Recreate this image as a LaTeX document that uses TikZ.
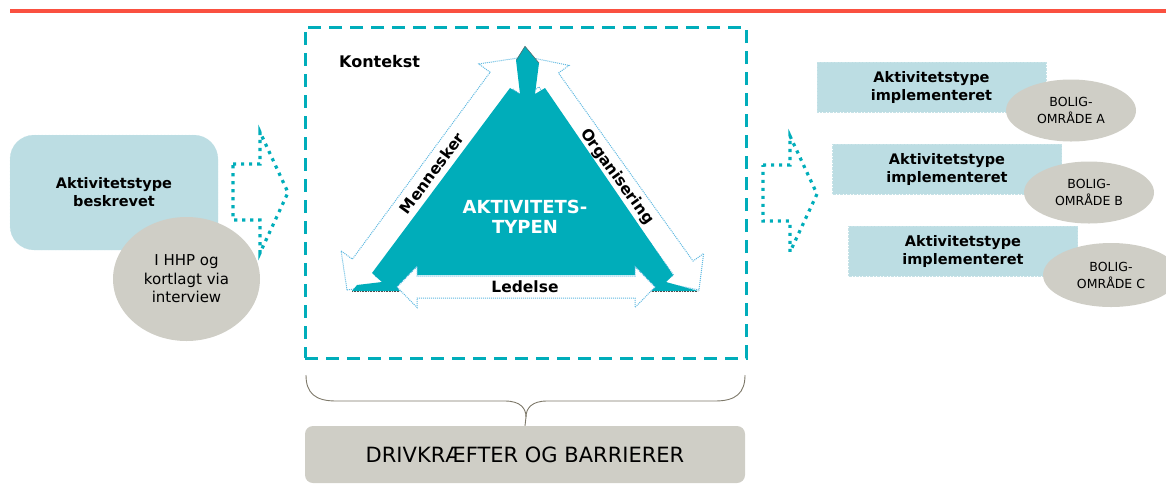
\documentclass[tikz,border=0pt]{standalone}
\usepackage{fontspec}
\setmainfont{DejaVu Sans}
\usetikzlibrary{calc,shapes.geometric}
\definecolor{tealc}{RGB}{0,173,186}
\definecolor{lblue}{RGB}{188,221,227}
\definecolor{greyc}{RGB}{207,206,198}
\definecolor{redl}{RGB}{250,80,64}
\definecolor{dotblue}{RGB}{95,185,225}
\definecolor{bracec}{RGB}{125,120,105}
% style, start, end, head length, head half width, shaft half width
\newcommand{\dblarr}[6]{%
  \coordinate (ha) at ($(#2)!#4!(#3)$);
  \coordinate (hb) at ($(#3)!#4!(#2)$);
  \path[#1] (#2) -- ($(ha)!#5!90:(#2)$) -- ($(ha)!#6!90:(#2)$)
    -- ($(hb)!#6!-90:(#3)$) -- ($(hb)!#5!-90:(#3)$) -- (#3)
    -- ($(hb)!#5!90:(#3)$) -- ($(hb)!#6!90:(#3)$)
    -- ($(ha)!#6!-90:(#2)$) -- ($(ha)!#5!-90:(#2)$) -- cycle;
}
\begin{document}
\begin{tikzpicture}[x=1pt,y=-1pt,
  boldtxt/.style={font=\bfseries\fontsize{14.5}{18}\selectfont},
  lbox/.style={fill=lblue, draw=lblue!85!white, densely dotted, rounded corners=24pt,
    minimum width=208pt, minimum height=115pt, inner sep=0pt, align=center, boldtxt},
  rbox/.style={fill=lblue, draw=lblue!85!white, densely dotted,
    minimum width=229pt, minimum height=50pt, inner sep=0pt, align=center, boldtxt},
  gell/.style={ellipse, fill=greyc, inner sep=0pt, align=center},
  smallell/.style={gell, minimum width=130pt, minimum height=62pt,
    font=\fontsize{12.5}{17}\selectfont},
  blockarrow/.style={draw=tealc, line width=3.2pt, dash pattern=on 3.2pt off 4.8pt},
  whitearrow/.style={fill=white, draw=dotblue, line width=1pt, densely dotted},
  sidelabel/.style={font=\bfseries\fontsize{15.5}{18}\selectfont, inner sep=0pt},
  ctxbox/.style={draw=tealc, line width=3pt, dash pattern=on 13pt off 8pt,
    minimum width=441pt, minimum height=331pt, inner sep=0pt},
]
\useasboundingbox (0,0) rectangle (1166,491);

% red top rule
\coordinate (r1) at (10,10.8);
\coordinate (r2) at (1166,10.8);
\draw[redl, line width=3.6pt] (r1) -- (r2);

% left box and ellipse
\node[lbox] (desc) at (114,192.5) {Aktivitetstype\\beskrevet};
\node[gell, minimum width=147pt, minimum height=124pt,
  font=\fontsize{15}{18.5}\selectfont] (hhp) at (186.5,279) {I HHP og\\kortlagt via\\interview};

% dotted block arrows
\draw[blockarrow] (233,164) -- (260,164) -- (260,132) -- (288,192.5) -- (260,253) -- (260,220) -- (233,220) -- cycle;
\draw[blockarrow] (763,165) -- (790,165) -- (790,136) -- (817,194) -- (790,252) -- (790,221) -- (763,221) -- cycle;

% context box
\node[ctxbox] (ctx) at (525.5,192.5) {};
\node[font=\bfseries\fontsize{16}{18}\selectfont, anchor=west, inner sep=0pt] (kon) at (339,62) {Kontekst};

% side arrows
\coordinate (mB) at (347,290); \coordinate (mT) at (518,58);
\dblarr{whitearrow}{mB}{mT}{28pt}{28pt}{14pt}
\coordinate (oB) at (699,290); \coordinate (oT) at (533,58);
\dblarr{whitearrow}{oT}{oB}{27pt}{25pt}{12pt}

% teal triangle
\fill[tealc] (525,46) -- (539,63) -- (535,94) -- (545,88) -- (673,275) -- (666,282)
  -- (698,291) -- (650,291) -- (655,287) -- (635,266) -- (635,275) -- (417,275)
  -- (417,266) -- (397,287) -- (400,291) -- (352,291) -- (357,285) -- (382,282)
  -- (372,273) -- (510,88) -- (520,94) -- (516,60) -- cycle;
\draw[black!70, line width=0.6pt, densely dotted] (352,291.3) -- (400,291.3);
\draw[black!70, line width=0.6pt, densely dotted] (650,291.3) -- (698,291.3);
\draw[black!60, line width=0.5pt] (516.5,60) -- (525,46.3) -- (539,63);

% bottom arrow
\coordinate (lA) at (397,287); \coordinate (lB) at (655,287);
\dblarr{whitearrow}{lA}{lB}{20pt}{20.5pt}{11pt}

% labels
\node[sidelabel, rotate=53.6] (men) at (431.7,173.3) {Mennesker};
\node[sidelabel, rotate=-54.2] (org) at (616.7,176.7) {Organisering};
\node[sidelabel] (led) at (525,287) {Ledelse};
\node[text=white, align=center, font=\bfseries\fontsize{18}{20.5}\selectfont, inner sep=0pt] (akt) at (525,217) {AKTIVITETS-\\TYPEN};

% right boxes
\node[rbox] (ra) at (931.5,87) {Aktivitetstype\\implementeret};
\node[smallell] (ea) at (1071,110.5) {BOLIG-\\OMRÅDE A};
\node[rbox] (rb) at (947,169) {Aktivitetstype\\implementeret};
\node[smallell] (eb) at (1089,192.5) {BOLIG-\\OMRÅDE B};
\node[rbox] (rc) at (963,251) {Aktivitetstype\\implementeret};
\node[smallell, minimum width=136pt, minimum height=64pt] (ec) at (1111,275) {BOLIG-\\OMRÅDE C};

% bottom box and brace
\node[fill=greyc, rounded corners=8pt, minimum width=440pt, minimum height=57pt,
  inner sep=0pt, font=\fontsize{21}{24}\selectfont] (drv) at (525,454.5) {DRIVKRÆFTER OG BARRIERER};
\coordinate (bl) at (306,375);
\coordinate (br) at (745,375);
\coordinate (bt) at (526,417);
\draw[bracec, line width=0.9pt] (bl) .. controls (306,393) and (315,401) .. (336,401)
  -- (505,401) .. controls (520,401) and (526,408) .. (bt);
\draw[bracec, line width=0.9pt] (br) .. controls (745,393) and (736,401) .. (715,401)
  -- (547,401) .. controls (532,401) and (526,408) .. (bt);
\draw[bracec, line width=0.9pt] (bt) -- (drv.north);
\end{tikzpicture}
\end{document}
